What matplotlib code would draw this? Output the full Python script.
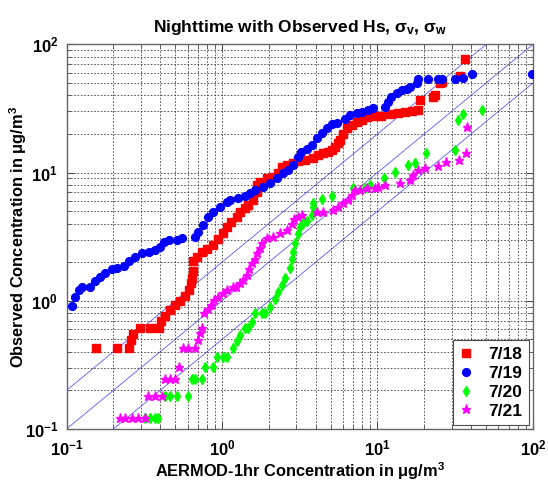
import matplotlib
matplotlib.use('Agg')
import matplotlib.pyplot as plt
from matplotlib.ticker import FixedLocator, FixedFormatter, LogLocator, NullFormatter

plt.rcParams['font.family'] = ['Liberation Sans', 'DejaVu Sans']
plt.rcParams['font.weight'] = 'bold'
plt.rcParams['mathtext.fontset'] = 'custom'
plt.rcParams['mathtext.rm'] = 'Liberation Sans:bold'
plt.rcParams['mathtext.bf'] = 'Liberation Sans:bold'
plt.rcParams['mathtext.it'] = 'Liberation Sans:bold'
plt.rcParams['mathtext.default'] = 'rm'

# 7/18
x18 = [0.155, 0.211, 0.251, 0.261, 0.267, 0.298, 0.346, 0.392, 0.408, 0.432,
       0.465, 0.501, 0.539, 0.581, 0.611, 0.632, 0.641, 0.646, 0.654, 0.687,
       0.740, 0.797, 0.879, 0.947, 1.02, 1.07, 1.15, 1.24, 1.31, 1.41,
       1.48, 1.59, 1.67, 1.67, 1.75, 1.94, 2.14, 2.30, 2.42, 2.61,
       2.87, 3.10, 3.42, 3.87, 4.16, 4.48, 4.83, 5.07, 5.33, 5.60,
       5.74, 6.03, 6.34, 6.83, 7.35, 7.91, 8.53, 9.64, 10.6, 12.0,
       13.6, 15.0, 16.6, 18.3, 18.8, 22.8, 23.4, 25.2, 25.9, 33.9, 36.5]
y18 = [0.430, 0.430, 0.430, 0.494, 0.547, 0.609, 0.609, 0.609, 0.695, 0.760,
       0.847, 0.925, 0.995, 1.09, 1.21, 1.37, 1.50, 1.70, 2.04, 2.19,
       2.38, 2.53, 2.74, 3.03, 3.35, 3.75, 4.13, 4.52, 4.94, 5.25,
       5.57, 6.09, 7.08, 7.98, 8.47, 9.00, 9.25, 9.84, 11.1, 11.4,
       11.8, 12.3, 12.5, 12.9, 13.7, 14.1, 14.5, 15.0, 15.9, 16.9,
       17.9, 19.9, 22.1, 23.4, 24.8, 25.6, 27.2, 27.5, 27.5, 28.5,
       29.2, 29.7, 30.2, 30.6, 36.7, 38.9, 40.1, 49.5, 50.9, 56.4, 77.5]

# 7/19
x19 = [0.108, 0.113, 0.120, 0.125, 0.142, 0.153, 0.165, 0.178, 0.196, 0.211,
       0.233, 0.251, 0.277, 0.306, 0.338, 0.372, 0.401, 0.422, 0.454, 0.514,
       0.553, 0.670, 0.705, 0.758, 0.817, 0.879, 0.971, 1.07, 1.13, 1.27,
       1.41, 1.51, 1.63, 1.84, 2.04, 2.25, 2.48, 2.67, 2.87, 3.10,
       3.22, 3.50, 3.78, 4.07, 4.38, 4.71, 5.08, 5.47, 6.18, 6.65,
       7.35, 7.91, 8.73, 9.40, 11.2, 11.7, 12.3, 13.3, 14.3, 15.4,
       16.2, 17.9, 18.3, 21.2, 24.6, 25.9, 31.5, 35.6, 40.4, 98.2]
y19 = [0.91, 1.07, 1.21, 1.28, 1.28, 1.43, 1.53, 1.64, 1.77, 1.80,
       1.86, 2.04, 2.19, 2.35, 2.40, 2.49, 2.62, 2.87, 2.97, 2.97,
       3.08, 3.15, 3.45, 3.89, 4.52, 4.94, 5.40, 5.91, 6.09, 6.28,
       6.55, 6.87, 7.29, 7.74, 8.22, 9.00, 9.84, 10.4, 11.4, 13.3,
       14.5, 15.4, 16.4, 18.5, 20.2, 22.1, 24.1, 24.4, 26.4, 28.0,
       28.9, 29.7, 31.0, 31.6, 32.5, 35.6, 38.9, 41.4, 43.9, 45.2,
       46.6, 49.5, 53.2, 53.2, 53.2, 53.2, 54.1, 55.1, 58.2, 58.2]

# 7/20
x20 = [0.320, 0.344, 0.371, 0.389, 0.430, 0.463, 0.512, 0.607, 0.638, 0.670,
       0.740, 0.778, 0.879, 0.925, 1.02, 1.07, 1.18, 1.24, 1.31, 1.41,
       1.48, 1.55, 1.63, 1.80, 1.89, 2.04, 2.19, 2.30, 2.42, 2.54,
       2.74, 2.81, 2.87, 2.95, 3.06, 3.17, 3.34, 3.51, 3.78, 3.87,
       3.87, 4.38, 5.08, 6.95, 8.31, 8.96, 11.0, 13.0, 15.8, 17.3,
       20.6, 31.5, 32.7, 35.5, 46.8]
y20 = [0.121, 0.121, 0.121, 0.121, 0.181, 0.181, 0.181, 0.181, 0.244, 0.244,
       0.244, 0.307, 0.307, 0.366, 0.366, 0.366, 0.426, 0.485, 0.540, 0.609,
       0.609, 0.686, 0.798, 0.798, 0.798, 0.898, 1.04, 1.17, 1.33, 1.50,
       1.80, 2.11, 2.42, 2.82, 3.31, 3.75, 4.01, 4.22, 4.66, 5.37,
       5.74, 6.21, 6.55, 7.52, 7.52, 7.98, 9.00, 10.1, 11.5, 11.8,
       14.2, 15.1, 25.9, 28.5, 30.6]

# 7/21
x21 = [0.221, 0.238, 0.263, 0.290, 0.320, 0.336, 0.371, 0.410, 0.430, 0.463,
       0.499, 0.529, 0.564, 0.607, 0.670, 0.696, 0.722, 0.740, 0.766, 0.807,
       0.850, 0.888, 0.942, 1.01, 1.08, 1.17, 1.23, 1.31, 1.37, 1.44,
       1.49, 1.56, 1.63, 1.69, 1.75, 1.80, 1.94, 2.14, 2.36, 2.61,
       2.80, 2.90, 3.10, 3.26, 4.07, 4.48, 5.20, 5.60, 6.03, 6.50,
       6.83, 7.17, 7.71, 8.53, 9.64, 10.1, 11.2, 14.0, 16.2, 17.0,
       18.3, 20.2, 24.6, 27.6, 33.4, 36.9, 37.4]
y21 = [0.121, 0.121, 0.121, 0.121, 0.121, 0.182, 0.182, 0.182, 0.245, 0.245,
       0.245, 0.307, 0.432, 0.432, 0.432, 0.494, 0.557, 0.609, 0.798, 0.861,
       0.925, 1.01, 1.07, 1.16, 1.22, 1.27, 1.29, 1.37, 1.45, 1.59,
       1.77, 1.97, 2.11, 2.34, 2.58, 2.80, 3.06, 3.15, 3.35, 3.56,
       3.96, 4.33, 4.52, 4.66, 4.94, 4.94, 5.09, 5.40, 5.74, 6.09,
       6.67, 7.29, 7.29, 7.52, 7.52, 7.74, 7.98, 8.22, 8.72, 9.55,
       10.4, 10.8, 11.2, 12.1, 12.5, 14.3, 22.7]

# factor-of-two reference lines
ref_x = [0.1, 100]
ref_factors = [2, 1, 0.5]

ticks = [0.1, 1, 10, 100]
tick_labels = ['$10^{-1}$', '$10^{0}$', '$10^{1}$', '$10^{2}$']

fig = plt.figure(figsize=(5.48, 4.82), dpi=100)
ax = fig.add_axes([0.1214, 0.110, 0.8512, 0.798])

for f in ref_factors:
    ax.plot(ref_x, [v * f for v in ref_x], color='#5a5aff', lw=0.6, zorder=1)

ax.plot(x18, y18, 's', color='red', mec='red', ms=5.5, label='7/18', zorder=3)
ax.plot(x19, y19, 'o', color='blue', mec='blue', ms=5.6, label='7/19', zorder=3)
ax.plot(x20, y20, 'd', color='#00ff00', mec='#00ff00', ms=5.5, label='7/20', zorder=3)
ax.plot(x21, y21, '*', color='magenta', mec='magenta', ms=6.5, label='7/21', zorder=3)

ax.set_xscale('log')
ax.set_yscale('log')
ax.set_xlim(0.1, 100)
ax.set_ylim(0.1, 100)

for axis in (ax.xaxis, ax.yaxis):
    axis.set_major_locator(FixedLocator(ticks))
    axis.set_major_formatter(FixedFormatter(tick_labels))
    axis.set_minor_locator(LogLocator(base=10, subs=range(2, 10)))
    axis.set_minor_formatter(NullFormatter())

ax.grid(True, which='both', linestyle=(0, (2, 2)), color='0.25', lw=0.6)
ax.tick_params(which='both', direction='in', top=True, right=True, color='0.3')
ax.tick_params(which='major', length=5, labelsize=12, pad=6)
ax.tick_params(axis='x', which='major', pad=7)
ax.tick_params(which='minor', length=3)
for s in ax.spines.values():
    s.set_color('0.4')
    s.set_linewidth(1)

ax.set_xlabel('AERMOD-1hr Concentration in \u03bcg/m$^{3}$', fontsize=11.8, fontweight='bold')
ax.set_ylabel('Observed Concentration in \u03bcg/m$^{3}$', fontsize=11.8, fontweight='bold')
ax.xaxis.set_label_coords(0.5, -0.082)
ax.yaxis.set_label_coords(-0.08, 0.5)
ax.set_title('Nighttime with Observed Hs, \u03c3$_{v}$, \u03c3$_{w}$', fontsize=12.5, fontweight='bold', pad=9)

leg = ax.legend(loc='lower right', fontsize=12.5, handlelength=0.8, handletextpad=0.9,
                labelspacing=0.22, borderaxespad=0.25, fancybox=False, framealpha=1,
                borderpad=0.35)
leg.get_frame().set_edgecolor('0.3')
leg.get_frame().set_linewidth(0.8)
for t in leg.get_texts():
    t.set_fontweight('bold')

fig.savefig('out.png', dpi=100)
